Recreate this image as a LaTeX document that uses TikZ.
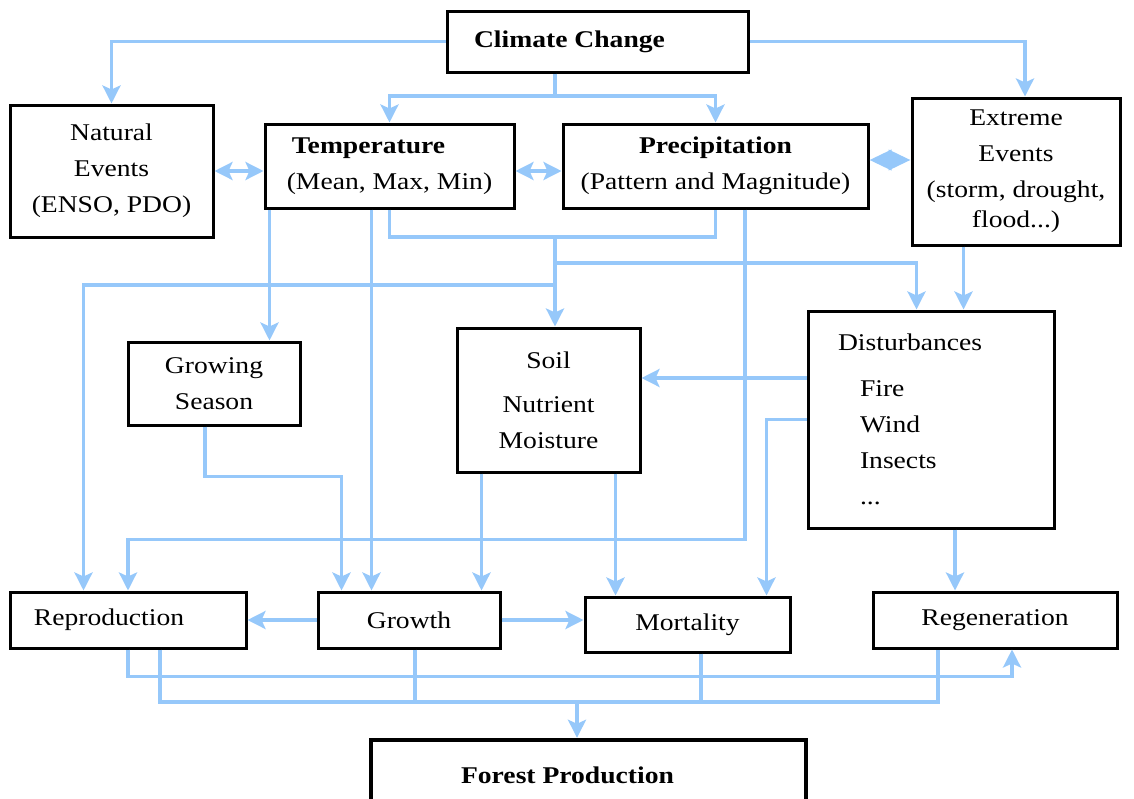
\documentclass[tikz,border=0pt]{standalone}
\usepackage{fontspec}
\setmainfont{Liberation Serif}[FakeStretch=1.15]
\usetikzlibrary{arrows.meta}
\definecolor{flow}{RGB}{150,200,250}

\begin{document}
\begin{tikzpicture}[%
    x=0.5pt,
    y=-0.5pt,
    >={Stealth[length=9pt,width=9pt,inset=2pt]},
    box/.style={draw, line width=1.5pt, align=center, inner sep=3pt},
    link/.style={draw=flow, line width=1.8pt},
    font=\fontsize{12}{18}\selectfont
  ]
  \useasboundingbox (0,0) rectangle (1134,798);

  \node[box, minimum width=150.5pt, minimum height=30.5pt] (clim) at (597.5,41.5) {\textbf{Climate Change}\hspace{28pt}};
  \node[box, minimum width=101.5pt, minimum height=66pt] (nat) at (111.5,171) {Natural\\ Events\\ (ENSO, PDO)};
  \node[box, minimum width=124.5pt, minimum height=42pt] (temp) at (389.5,166) {\textbf{Temperature}\hspace*{21pt}\\ (Mean, Max, Min)};
  \node[box, minimum width=152.5pt, minimum height=42pt] (prec) at (715.5,166) {\textbf{Precipitation}\\ (Pattern and Magnitude)};
  \node[box, minimum width=104pt, minimum height=73.5pt] (ext) at (1016,171.5) {Extreme\\ Events\\ (storm, drought,\\[-3pt] flood...)};
  \node[box, minimum width=86pt, minimum height=41.5pt] (gs) at (214,383.5) {Growing\\ Season};
  \node[box, minimum width=91.5pt, minimum height=72pt] (soil) at (548.5,400) {Soil\\[4pt] Nutrient\\ Moisture};
  \node[box, align=left, text width=93pt, inner xsep=15pt, minimum height=108.5pt] (dist) at (931,419.5)
    {Disturbances\\[5pt] \hspace{11pt}Fire\\ \hspace{11pt}Wind\\ \hspace{11pt}Insects\\ \hspace{11pt}...};
  \node[box, minimum width=118pt, minimum height=28pt] (repro) at (128,620) {Reproduction\hspace{19pt}};
  \node[box, minimum width=91pt, minimum height=28pt] (growth) at (409,620) {Growth};
  \node[box, minimum width=102.5pt, minimum height=27.5pt] (mort) at (687.5,624.5) {Mortality};
  \node[box, minimum width=122pt, minimum height=28pt] (regen) at (995,620) {Regeneration};
  \node[box, line width=2.2pt, minimum width=217.5pt, minimum height=35pt] (forest) at (588.5,775) {\textbf{Forest Production}\hspace{21pt}};

  \coordinate (jc) at (555,96);
  \coordinate (jt) at (555,237);
  \coordinate (jr) at (555,263);
  \coordinate (jl) at (555,285);
  \coordinate (bus) at (577,702);
  \coordinate (extin) at ([xshift=4.5pt]ext.north);
  \coordinate (precE) at ([yshift=3pt]prec.east);
  \coordinate (precout) at ([xshift=14.75pt]prec.south);
  \coordinate (gsin) at ([xshift=-16pt]gs.north east);
  \coordinate (grA) at ([xshift=12.5pt]growth.north west);
  \coordinate (grB) at ([xshift=27.5pt]growth.north west);
  \coordinate (grC) at ([xshift=-10pt]growth.north east);
  \coordinate (mortA) at ([xshift=16pt]mort.north west);
  \coordinate (mortB) at ([xshift=-12.5pt]mort.north east);
  \coordinate (reA) at ([xshift=37.5pt]repro.north west);
  \coordinate (distA) at ([xshift=55pt]dist.north west);
  \coordinate (distB) at ([xshift=78.5pt]dist.north west);
  \coordinate (distW) at ([yshift=20.75pt]dist.west);
  \coordinate (regA) at ([xshift=-20pt]regen.north);
  \coordinate (regB) at ([xshift=8.5pt]regen.south);
  \coordinate (reout) at ([xshift=16pt]repro.south);
  \coordinate (grout) at ([xshift=3pt]growth.south);
  \coordinate (mortout) at ([xshift=6.75pt]mort.south);
  \coordinate (regout) at ([xshift=-28.5pt]regen.south);

  \draw[link, ->] (clim.west) -| (nat.north);
  \draw[link, ->] (clim.east) -| (extin);
  \draw[link] (clim.south -| jc) -- (jc);
  \draw[link, ->] (jc) -| (temp.north);
  \draw[link, ->] (jc) -| (prec.north);
  \draw[link, <->] (nat.east) -- (nat.east -| temp.west);
  \draw[link, <->] (nat.east -| temp.east) -- (nat.east -| prec.west);
  \draw[link, {Triangle[length=11pt,width=10pt]}-{Triangle[length=11pt,width=10pt]}] (precE) -- (precE -| ext.west);
  \draw[link] (temp.south) |- (jt) -| (prec.south);
  \draw[link, ->] (jt) -- (jt |- soil.north);
  \draw[link, ->] (jr) -| (distA);
  \draw[link, ->] (jl) -| (reA);
  \draw[link, ->] (temp.south -| gsin) -- (gsin);
  \draw[link, ->] (temp.south -| grB) -- (grB);
  \draw[link, ->] ([xshift=-4.5pt]gs.south) -- ++(0,50) -| (grA);
  \draw[link, ->] (precout) -- ++(0,330) -| (repro.north);
  \draw[link, ->] (soil.south -| grC) -- (grC);
  \draw[link, ->] (soil.south -| mortA) -- (mortA);
  \draw[link, ->] (distW) -- (distW -| soil.east);
  \draw[link, ->] (dist.west) -| (mortB);
  \draw[link, ->] (ext.south -| distB) -- (distB);
  \draw[link, ->] (dist.south -| regA) -- (regA);
  \draw[link, ->] (growth.west) -- (growth.west -| repro.east);
  \draw[link, ->] (growth.east) -- (growth.east -| mort.west);
  \draw[link, ->] (repro.south) -- ++(0,27) -| (regB);
  \draw[link] (reout) |- (bus) -| (regout);
  \draw[link] (grout) -- (grout |- bus);
  \draw[link] (mortout) -- (mortout |- bus);
  \draw[link, ->] (bus) -- (bus |- forest.north);
\end{tikzpicture}
\end{document}
